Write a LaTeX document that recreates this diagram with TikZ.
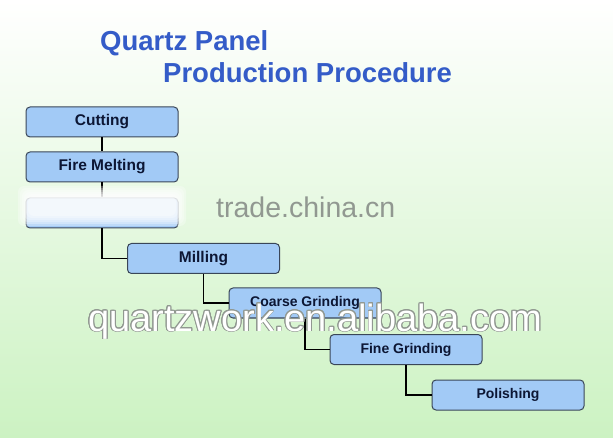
\documentclass[tikz,border=0pt]{standalone}
\usepackage{fontspec}
\setmainfont{Liberation Sans}
\usepackage{contour}
\usetikzlibrary{calc}
\definecolor{titleblue}{RGB}{52,92,200}
\definecolor{boxblue}{RGB}{162,202,246}
\definecolor{boxline}{RGB}{58,70,88}
\definecolor{boxtext}{RGB}{12,22,52}
\definecolor{bggreen}{RGB}{204,242,194}
\definecolor{markgray}{RGB}{145,152,145}
\tikzstyle{stage} = [rectangle, rounded corners=4pt, draw=boxline, line width=1pt, fill=boxblue, text=boxtext, minimum height=30pt, minimum width=152pt, text centered, font=\fontsize{15.5}{18}\selectfont\bfseries]
\tikzstyle{link} = [line width=1.6pt, black]
\contourlength{0.9pt}

\begin{document}
\begin{tikzpicture}[x=1pt, y=-1pt]

        \shade[top color=white, bottom color=bggreen] (0,0) rectangle (613,438);
        \useasboundingbox (0,0) rectangle (613,438);

        %% title

        \node (title1) [anchor=base west, text=titleblue, font=\fontsize{27.5}{30}\selectfont\bfseries, inner sep=0pt] at (100,51) {Quartz Panel};
        \node (title2) [anchor=base west, text=titleblue, font=\fontsize{27.5}{30}\selectfont\bfseries, inner sep=0pt] at (163,83) {Production Procedure};

        %% stages

        \node (cut) [stage] at (102,122) {Cutting};
        \node (melt) [stage] at (102,167) {Fire Melting};
        \node (blank) [stage] at (102,213) {};
        \node (mill) [stage] at (203.5,258.5) {Milling};
        \node (coarse) [stage, font=\fontsize{14}{16}\selectfont\bfseries] at (305,303) {Coarse Grinding};
        \node (fine) [stage, font=\fontsize{14}{16}\selectfont\bfseries] at (406,349.5) {Fine Grinding};
        \node (polish) [stage, font=\fontsize{14}{16}\selectfont\bfseries] at (508,395) {Polishing};

        %% links

        \draw[link] (cut) -- (melt);
        \draw[link] (melt) -- (blank);
        \draw[link] (blank.south) |- (mill.west);
        \draw[link] (mill.south) |- (coarse.west);
        \draw[link] (coarse.south) |- (fine.west);
        \draw[link] (fine.south) |- (polish.west);

        %% watermarks

        \foreach \d in {0,2,...,10}
            \fill[white, opacity=0.3, rounded corners=6pt] (18+\d,186+\d) rectangle (186-\d,226-\d);
        \node (mark1) [anchor=base west, text=markgray, font=\fontsize{28.5}{32}\selectfont, inner sep=0pt] at (216,218) {trade.china.cn};
        \node (mark2) [anchor=base west, font=\fontsize{38}{42}\selectfont, inner sep=0pt] at (88,331) {\contour{markgray}{\textcolor{white}{quartzwork.en.alibaba.com}}};

    \end{tikzpicture}
\end{document}
